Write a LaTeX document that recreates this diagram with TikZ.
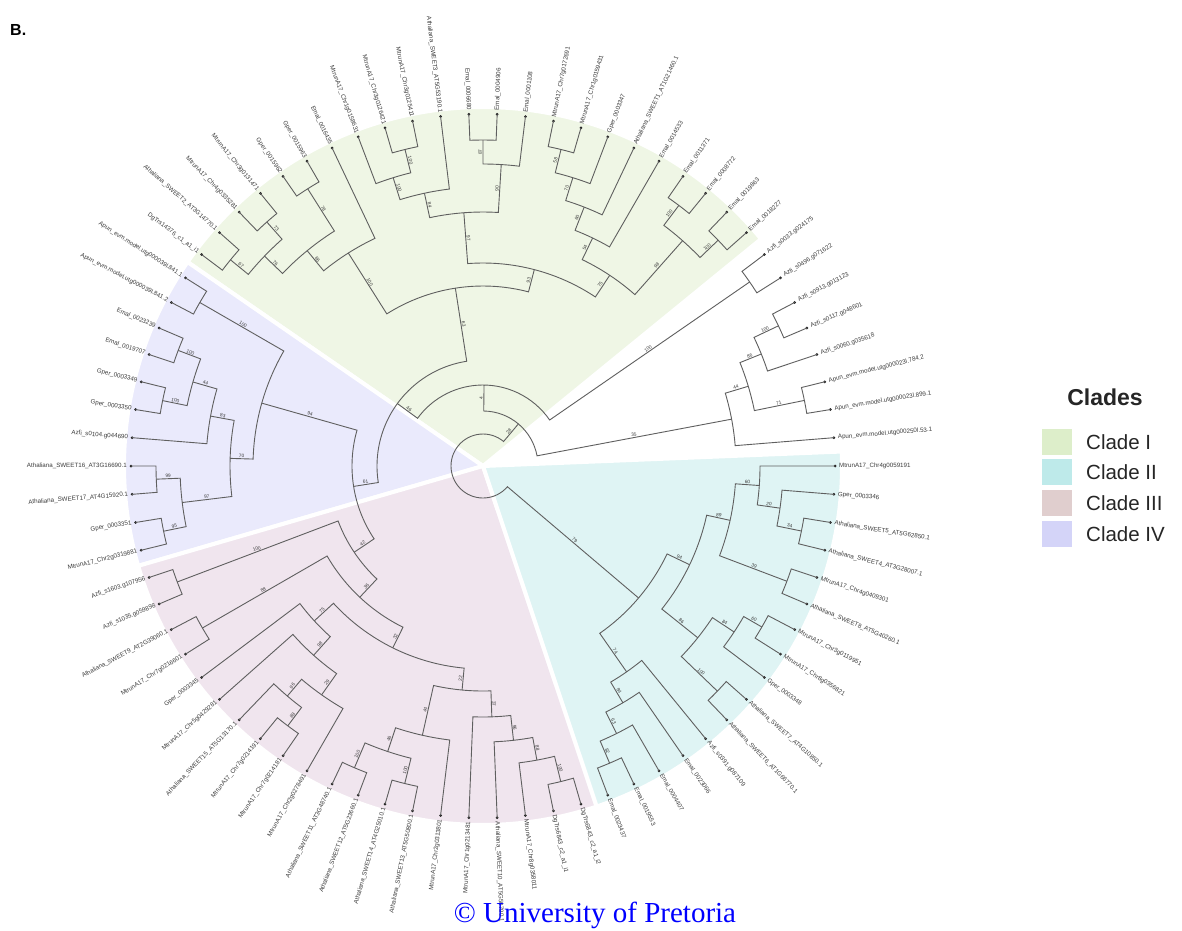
\documentclass[tikz,border=0pt]{standalone}
\usepackage{fontspec}
\setmainfont{Liberation Sans}
\newfontfamily\univfont{Liberation Serif}
\definecolor{cIfill}{RGB}{239,246,229}
\definecolor{cIIfill}{RGB}{223,244,244}
\definecolor{cIIIfill}{RGB}{240,229,238}
\definecolor{cIVfill}{RGB}{234,234,252}
\definecolor{cIkey}{RGB}{221,238,202}
\definecolor{cIIkey}{RGB}{190,234,234}
\definecolor{cIIIkey}{RGB}{224,206,206}
\definecolor{cIVkey}{RGB}{212,212,248}
\definecolor{branchgray}{RGB}{95,95,95}
\definecolor{labgray}{RGB}{60,60,60}
\definecolor{univblue}{RGB}{0,0,255}
\makeatletter
\newcommand\tang[1]{\csname tang@#1\endcsname}
\newcommand\trad[1]{\csname trad@#1\endcsname}
\newcommand\tsetnode[4]{%
  \expandafter\xdef\csname tang@#1\endcsname{#2}%
  \expandafter\xdef\csname trad@#1\endcsname{#3}%
  \expandafter\gdef\csname tlab@#1\endcsname{#4}}
\makeatother
\newcommand\leafang[1]{\ifnum#1>47 \pgfmathsetmacro\la{(#1-47)*360/78}\else\pgfmathsetmacro\la{180+(#1-8)*360/78}\fi}
\newcommand\tleaf[3]{%
  \leafang{#2}%
  \tsetnode{#1}{\la}{352}{}%
  \coordinate (#1) at (\la:352);
  \fill[leafdot] (#1) circle[radius=1.5];
  \pgfmathtruncatemacro\isleft{(\la>90 && \la<270) ? 1 : 0}%
  \ifnum\isleft=1
    \pgfmathsetmacro\lr{\la-180}%
    \node[leaflab, anchor=east, rotate=\lr] (#1-t) at (\la:356) {#3};
  \else
    \node[leaflab, anchor=west, rotate=\la] (#1-t) at (\la:356) {#3};
  \fi}
\newcommand\tblab[2]{%
  \edef\blabtext{\csname tlab@#2\endcsname}%
  \ifx\blabtext\empty\else
    \pgfmathsetmacro\ba{\tang{#2}}%
    \pgfmathsetmacro\br{(\trad{#1}+\trad{#2})/2}%
    \pgfmathtruncatemacro\bleft{(\ba>90 && \ba<270) ? 1 : 0}%
    \ifnum\bleft=1 \pgfmathsetmacro\brot{\ba-180}\else\pgfmathsetmacro\brot{\ba}\fi
    \node[bslab, rotate=\brot, anchor=south] at (\ba:\br) {\blabtext};
  \fi}
\newcommand\tnode[5]{%
  \pgfmathsetmacro\na{(\tang{#3}+\tang{#4})/2}%
  \tsetnode{#1}{\na}{#2}{#5}%
  \coordinate (#1) at (\na:#2);
  \coordinate (#1-a) at (\tang{#3}:#2);
  \coordinate (#1-b) at (\tang{#4}:#2);
  \draw[branch] (#3) -- (#1-a) arc[start angle=\tang{#3}, end angle=\tang{#4}, radius=#2] -- (#4);
  \tblab{#1}{#3}\tblab{#1}{#4}}
\begin{document}
\begin{tikzpicture}[x=1pt,y=1pt,
  branch/.style={draw=branchgray, line width=0.9},
  leafdot/.style={fill=black!85},
  leaflab/.style={font=\fontsize{6.2}{7}\selectfont, text=labgray, inner sep=0},
  bslab/.style={font=\fontsize{4.8}{5}\selectfont, text=labgray, inner sep=0.8},
  wedge/.style={draw=white, line width=4},
  keybox/.style={minimum width=30, minimum height=26, inner sep=0, draw=none},
  keytext/.style={font=\fontsize{20.5}{24}\selectfont, text=black!85, anchor=west, inner sep=0}]
\useasboundingbox (0,0) rectangle (1182,-930);
\fill[white] (0,0) rectangle (1182,-930);
\node[font=\bfseries\fontsize{16}{18}\selectfont, anchor=base west, inner sep=0] (panel) at (10,-35) {B.};
\begin{scope}[shift={(483,-466)}]
% clade wedges
\fill[cIfill, wedge] (0,0) -- (39.23:359) arc[start angle=39.23, end angle=145.38, radius=359] -- cycle;
\fill[cIVfill, wedge] (0,0) -- (145.38:359) arc[start angle=145.38, end angle=196.15, radius=359] -- cycle;
\fill[cIIIfill, wedge] (0,0) -- (196.15:359) arc[start angle=196.15, end angle=288.46, radius=359] -- cycle;
\fill[cIIfill, wedge] (0,0) -- (288.46:359) arc[start angle=288.46, end angle=362.31, radius=359] -- cycle;
% leaves
\tleaf{l1}{1}{Apun\_evm.model.utg000039l.841.1}
\tleaf{l2}{2}{Apun\_evm.model.utg000039l.841.2}
\tleaf{l3}{3}{Emal\_0023239}
\tleaf{l4}{4}{Emal\_0019707}
\tleaf{l5}{5}{Gper\_0003349}
\tleaf{l6}{6}{Gper\_0003350}
\tleaf{l7}{7}{Azfi\_s0104.g044690}
\tleaf{l8}{8}{Athaliana\_SWEET16\_AT3G16690.1}
\tleaf{l9}{9}{Athaliana\_SWEET17\_AT4G15920.1}
\tleaf{l10}{10}{Gper\_0003351}
\tleaf{l11}{11}{MtrunA17\_Chr2g0319881}
\tleaf{l12}{12}{Azfi\_s1603.g107956}
\tleaf{l13}{13}{Azfi\_s1035.g059898}
\tleaf{l14}{14}{Athaliana\_SWEET9\_AT2G39060.1}
\tleaf{l15}{15}{MtrunA17\_Chr7g0216601}
\tleaf{l16}{16}{Gper\_0003345}
\tleaf{l17}{17}{MtrunA17\_Chr5g0429281}
\tleaf{l18}{18}{Athaliana\_SWEET15\_AT5G13170.1}
\tleaf{l19}{19}{MtrunA17\_Chr7g0214191}
\tleaf{l20}{20}{MtrunA17\_Chr7g0214181}
\tleaf{l21}{21}{MtrunA17\_Chr2g0278491}
\tleaf{l22}{22}{Athaliana\_SWEET11\_AT3G48740.1}
\tleaf{l23}{23}{Athaliana\_SWEET12\_AT5G23660.1}
\tleaf{l24}{24}{Athaliana\_SWEET14\_AT4G25010.1}
\tleaf{l25}{25}{Athaliana\_SWEET13\_AT5G50800.1}
\tleaf{l26}{26}{MtrunA17\_Chr2g0313801}
\tleaf{l27}{27}{MtrunA17\_Chr1g0213481}
\tleaf{l28}{28}{Athaliana\_SWEET10\_AT5G50790.1}
\tleaf{l29}{29}{MtrunA17\_Chr8g0358011}
\tleaf{l30}{30}{DgTrs6843\_c2\_a1\_i1}
\tleaf{l31}{31}{DgTrs6843\_c2\_a1\_i2}
\tleaf{l32}{32}{Emal\_0023437}
\tleaf{l33}{33}{Emal\_0019553}
\tleaf{l34}{34}{Emal\_0004407}
\tleaf{l35}{35}{Emal\_0023066}
\tleaf{l36}{36}{Azfi\_s0391.g087109}
\tleaf{l37}{37}{Athaliana\_SWEET6\_AT1G66770.1}
\tleaf{l38}{38}{Athaliana\_SWEET7\_AT4G10850.1}
\tleaf{l39}{39}{Gper\_0003348}
\tleaf{l40}{40}{MtrunA17\_Chr8g0356821}
\tleaf{l41}{41}{MtrunA17\_Chr3g0119951}
\tleaf{l42}{42}{Athaliana\_SWEET8\_AT5G40260.1}
\tleaf{l43}{43}{MtrunA17\_Chr4g0409301}
\tleaf{l44}{44}{Athaliana\_SWEET4\_AT3G28007.1}
\tleaf{l45}{45}{Athaliana\_SWEET5\_AT5G62850.1}
\tleaf{l46}{46}{Gper\_0003346}
\tleaf{l47}{47}{MtrunA17\_Chr4g0059191}
\tleaf{l48}{48}{Apun\_evm.model.utg000250l.53.1}
\tleaf{l49}{49}{Apun\_evm.model.utg000023l.899.1}
\tleaf{l50}{50}{Apun\_evm.model.utg000023l.784.2}
\tleaf{l51}{51}{Azfi\_s0060.g035618}
\tleaf{l52}{52}{Azfi\_s0117.g048601}
\tleaf{l53}{53}{Azfi\_s0913.g013123}
\tleaf{l54}{54}{Azfi\_s0496.g071622}
\tleaf{l55}{55}{Azfi\_s0033.g024175}
\tleaf{l56}{56}{Emal\_0018227}
\tleaf{l57}{57}{Emal\_0019863}
\tleaf{l58}{58}{Emal\_0008772}
\tleaf{l59}{59}{Emal\_0011371}
\tleaf{l60}{60}{Emal\_0014533}
\tleaf{l61}{61}{Athaliana\_SWEET1\_AT1G21460.1}
\tleaf{l62}{62}{Gper\_0003347}
\tleaf{l63}{63}{MtrunA17\_Chr1g0159431}
\tleaf{l64}{64}{MtrunA17\_Chr7g0172691}
\tleaf{l65}{65}{Emal\_0001108}
\tleaf{l66}{66}{Emal\_0004906}
\tleaf{l67}{67}{Emal\_0006680}
\tleaf{l68}{68}{Athaliana\_SWEET3\_AT5G53190.1}
\tleaf{l69}{69}{MtrunA17\_Chr3g0125411}
\tleaf{l70}{70}{MtrunA17\_Chr3g0126421}
\tleaf{l71}{71}{MtrunA17\_Chr1g0158631}
\tleaf{l72}{72}{Emal\_0016435}
\tleaf{l73}{73}{Gper\_0015963}
\tleaf{l74}{74}{Gper\_0015962}
\tleaf{l75}{75}{MtrunA17\_Chr3g0131471}
\tleaf{l76}{76}{MtrunA17\_Chr4g0335281}
\tleaf{l77}{77}{Athaliana\_SWEET2\_AT3G14770.1}
\tleaf{l78}{78}{DgTrs14376\_c1\_a1\_i1}
% clade IV
\tnode{c4a}{327}{l1}{l2}{100}
\tnode{c4g}{326}{l3}{l4}{100}
\tnode{c4h}{327}{l5}{l6}{100}
\tnode{c4f}{302}{c4g}{c4h}{44}
\tnode{c4d}{277}{c4f}{l7}{83}
\tnode{c4i}{327}{l8}{l9}{99}
\tnode{c4j}{326}{l10}{l11}{95}
\tnode{c4e}{303}{c4i}{c4j}{97}
\tnode{c4c}{253}{c4d}{c4e}{70}
\tnode{c4b}{230}{c4a}{c4c}{94}
% clade III
\tnode{c3a}{327}{l12}{l13}{100}
\tnode{c3b}{324}{l14}{l15}{88}
\tnode{c3u}{325}{l19}{l20}{88}
\tnode{c3t3}{302}{l18}{c3u}{96}
\tnode{c3t2}{280}{c3t3}{l21}{29}
\tnode{c3t}{254}{l17}{c3t2}{98}
\tnode{c3s}{229}{l16}{c3t}{75}
\tnode{c3a5}{328}{l22}{l23}{100}
\tnode{c3a6}{327}{l24}{l25}{100}
\tnode{c3a4}{301}{c3a5}{c3a6}{46}
\tnode{c3ww}{276}{c3a4}{l26}{44}
\tnode{c3a3}{325}{l30}{l31}{100}
\tnode{c3zz}{299}{l29}{c3a3}{88}
\tnode{c3yy}{276}{l28}{c3zz}{96}
\tnode{c3xx}{251}{l27}{c3yy}{37}
\tnode{c3v}{225}{c3ww}{c3xx}{22}
\tnode{c3r}{203}{c3s}{c3v}{32}
\tnode{c3q}{180}{c3b}{c3r}{36}
\tnode{c3p}{155}{c3a}{c3q}{42}
\tnode{nx}{131}{c4b}{c3p}{61}
% clade II
\tnode{c2kk}{323}{l32}{l33}{82}
\tnode{c2jj}{299}{l34}{c2kk}{63}
\tnode{c2ii}{275}{l35}{c2jj}{84}
\tnode{c2hh}{251}{l36}{c2ii}{74}
\tnode{c2ff}{325}{l37}{l38}{100}
\tnode{c2ee}{322}{l40}{l41}{60}
\tnode{c2dd}{301}{l39}{c2ee}{84}
\tnode{c2cc}{275}{c2ff}{c2dd}{86}
\tnode{c2m}{325}{l42}{l43}{39}
\tnode{c2n}{325}{l44}{l45}{34}
\tnode{c2z}{300}{c2n}{l46}{20}
\tnode{c2y}{277}{c2z}{l47}{60}
\tnode{c2aa}{253}{c2m}{c2y}{89}
\tnode{c2bb}{229}{c2cc}{c2aa}{94}
\tnode{c2gg}{204}{c2hh}{c2bb}{79}
% ungrouped
\tnode{rpp}{327}{l52}{l53}{100}
\tnode{rnn}{300}{l51}{rpp}{86}
\tnode{roo}{328}{l49}{l50}{71}
\tnode{rmm}{277}{roo}{rnn}{44}
\tnode{rll}{253}{l48}{rmm}{35}
\tnode{rqq}{324}{l54}{l55}{100}
% clade I
\tnode{c1p}{326}{l56}{l57}{100}
\tnode{c1q}{326}{l58}{l59}{100}
\tnode{c1a7}{301}{c1p}{c1q}{98}
\tnode{c1r}{326}{l63}{l64}{58}
\tnode{c1a8}{302}{l62}{c1r}{70}
\tnode{c1a9}{278}{l61}{c1a8}{60}
\tnode{c1a10}{253}{l60}{c1a9}{54}
\tnode{c1a11}{229}{c1a7}{c1a10}{75}
\tnode{c1s}{326}{l66}{l67}{87}
\tnode{c1a15}{302}{l65}{c1s}{90}
\tnode{c1t}{326}{l69}{l70}{100}
\tnode{c1a12}{302}{c1t}{l71}{100}
\tnode{c1a13}{279}{l68}{c1a12}{84}
\tnode{c1a14}{254}{c1a15}{c1a13}{97}
\tnode{c1a26}{203}{c1a11}{c1a14}{93}
\tnode{c1u}{328}{l73}{l74}{78}
\tnode{c1v}{326}{l75}{l76}{73}
\tnode{c1w}{326}{l77}{l78}{67}
\tnode{c1a23}{303}{c1v}{c1w}{76}
\tnode{c1a24}{278}{c1u}{c1a23}{86}
\tnode{c1a25}{252}{l72}{c1a24}{100}
\tnode{c1ci}{180}{c1a26}{c1a25}{63}
% backbone
\tnode{n106}{106}{c1ci}{nx}{46}
\tnode{n81}{81}{rqq}{n106}{4}
\tnode{n55}{55}{rll}{n81}{28}
\tnode{root}{32}{n55}{c2gg}{}
\end{scope}
% legend
\node[font=\bfseries\fontsize{23}{27}\selectfont, text=black!85, inner sep=0] (keytitle) at (1105,-397) {Clades};
\node[keybox, fill=cIkey] (k1) at (1057,-442) {};
\node[keybox, fill=cIIkey] (k2) at (1057,-472) {};
\node[keybox, fill=cIIIkey] (k3) at (1057,-503) {};
\node[keybox, fill=cIVkey] (k4) at (1057,-534) {};
\node[keytext] (t1) at (1086,-442) {Clade I};
\node[keytext] (t2) at (1086,-472) {Clade II};
\node[keytext] (t3) at (1086,-503) {Clade III};
\node[keytext] (t4) at (1086,-534) {Clade IV};
\node[font=\univfont\fontsize{29}{32}\selectfont, text=univblue, anchor=base, inner sep=0] (copy) at (595,-922) {\textcopyright{} University of Pretoria};
\end{tikzpicture}
\end{document}
